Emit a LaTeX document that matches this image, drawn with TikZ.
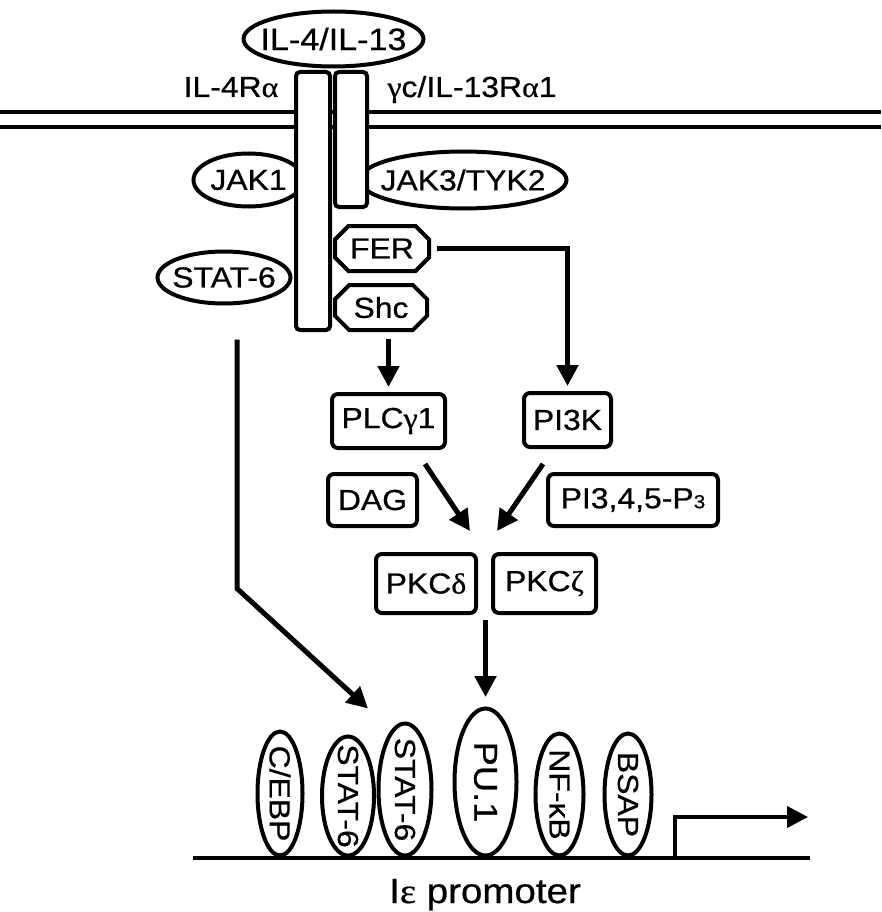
\documentclass[tikz,border=0pt]{standalone}
\usepackage{fontspec}
\setmainfont{Liberation Sans}[FakeStretch=1.1,FakeBold=0.6]
\newfontfamily\grk{Liberation Serif}[FakeStretch=1.1,FakeBold=0.6]
\usetikzlibrary{shapes.geometric,shapes.misc,arrows.meta,calc}

\begin{document}
\begin{tikzpicture}[x=1pt,y=-1pt,
  every node/.style={font=\fontsize{29}{34}\selectfont},
  box/.style={draw,line width=4pt,rounded corners=6pt,inner sep=0pt,minimum height=54pt},
  oval/.style={draw,ellipse,line width=4pt,inner sep=0pt,fill=white},
  site/.style={draw,ellipse,line width=4pt,inner sep=0pt,fill=white,rotate=-90,font=\fontsize{29}{32}\selectfont},
  chain/.style={draw,line width=4pt,rounded corners=4pt,inner sep=0pt,fill=white},
  dock/.style={draw,chamfered rectangle,chamfered rectangle xsep=11pt,line width=4pt,inner sep=0pt,fill=white,minimum width=94pt,minimum height=45pt},
  arr/.style={line width=5pt,-{Triangle[length=21pt,width=21pt]}}]
\useasboundingbox (0,0) rectangle (881,912);
% membrane
\draw[line width=4.5pt] (0,112) -- (881,112);
\draw[line width=4.5pt] (0,127) -- (881,127);
% ligand and kinases
\node[oval,minimum width=180pt,minimum height=55pt,font=\fontsize{31}{34}\selectfont] (lig) at (333.5,39) {\makebox[0pt]{IL-4/IL-13}};
\node[oval,minimum width=110pt,minimum height=53pt] (jak1) at (248.5,180) {\makebox[0pt]{JAK1}};
\node[oval,minimum width=207pt,minimum height=57pt] (jak3) at (463,180) {\makebox[0pt]{JAK3/TYK2}};
\node[oval,minimum width=133pt,minimum height=52pt] (stat) at (224,277.5) {\makebox[0pt]{STAT-6}};
% receptor chains
\node[chain,minimum width=34pt,minimum height=258pt] (r4) at (313,201) {};
\node[chain,minimum width=32pt,minimum height=135pt] (rg) at (351,139.5) {};
\node[anchor=base] (r4lbl) at (231,97) {IL-4R{\grk α}};
\node[anchor=base] (rglbl) at (472,97) {{\grk γ}c/IL-13R{\grk α}1};
% adaptors
\node[dock] (fer) at (382,248.5) {FER};
\node[dock,minimum width=92pt] (shc) at (381,307.5) {Shc};
% signalling boxes
\node[box,minimum width=113pt] (plc) at (388.5,421) {PLC{\grk γ}1};
\node[box,minimum width=87pt] (pi3k) at (567.5,420) {PI3K};
\node[box,minimum width=89pt,minimum height=52pt] (dag) at (372.5,500) {DAG};
\node[box,minimum width=170pt,minimum height=52pt] (pip) at (633,500) {PI3,4,5-P{\fontsize{19}{20}\selectfont 3}};
\node[box,minimum width=100pt,minimum height=59pt] (pkcd) at (426,583.5) {PKC{\grk δ}};
\node[box,minimum width=103pt,minimum height=59pt] (pkcz) at (544.5,583.5) {PKC{\grk ζ}};
\coordinate (hub) at ($(pkcd.north east)!0.5!(pkcz.north west)$);
% promoter
\coordinate (dnaL) at (193,858);
\coordinate (dnaR) at (810,858);
\draw[line width=4pt] (dnaL) -- (dnaR);
\node[site,minimum width=124pt,minimum height=45pt] (cebp) at (280,793.5) {\makebox[0pt]{C/EBP}};
\node[site,minimum width=119pt,minimum height=52pt] (stat1) at (348,796) {\makebox[0pt]{STAT-6}};
\node[site,minimum width=132pt,minimum height=53pt] (stat2) at (405,789.5) {\makebox[0pt]{STAT-6}};
\node[site,minimum width=147pt,minimum height=62pt,font=\fontsize{33}{36}\selectfont] (pu1) at (485.5,782) {\makebox[0pt]{PU.1}};
\node[site,minimum width=122pt,minimum height=48pt] (nfkb) at (559.5,794.5) {\makebox[0pt]{NF-κB}};
\node[site,minimum width=122pt,minimum height=47pt] (bsap) at (628,794.5) {\makebox[0pt]{BSAP}};
\coordinate (tss) at (675,858);
\draw[arr,line width=4pt] (tss) -- ++(0,-41) -- ++(133,0);
\node[anchor=base,font=\fontsize{35}{38}\selectfont] (prom) at (485,903) {I{\grk ε} promoter};
% arrows
\draw[arr,shorten >=5pt] ([yshift=-7pt]shc.south -| plc.north) -- (plc.north);
\draw[arr,shorten <=6pt,shorten >=5pt] (fer.east) -| (pi3k.north);
\draw[arr] ([xshift=36.5pt,yshift=-14pt]plc.south) -- ([xshift=-14.5pt,yshift=21pt]hub);
\draw[arr] ([xshift=-24.5pt,yshift=-15pt]pi3k.south) -- ([xshift=12.5pt,yshift=21pt]hub);
\draw[arr] ([yshift=-5pt]pkcd.south -| pu1.center) -- ([yshift=85pt]pu1.center);
\draw[arr] ([xshift=13pt,yshift=-34pt]stat.south) -- ++(0,249) -- ([xshift=-37pt,yshift=81pt]stat2.center);
\end{tikzpicture}
\end{document}
